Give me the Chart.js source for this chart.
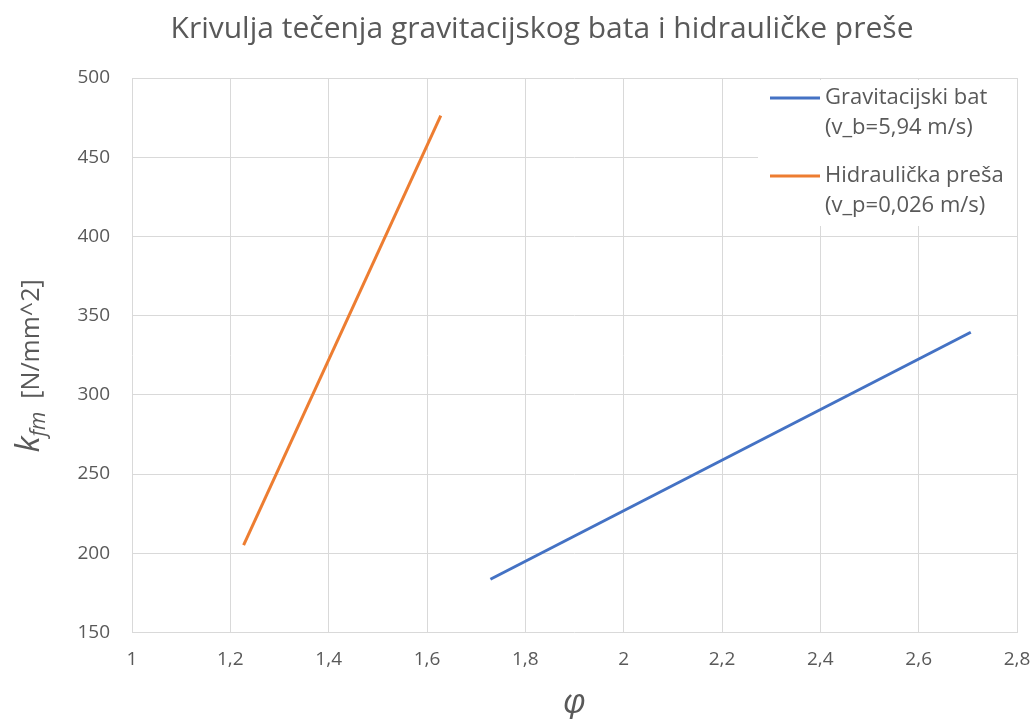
<!DOCTYPE html>
<html>
<head>
<meta charset="utf-8">
<script src="https://cdn.jsdelivr.net/npm/chart.js@4"></script>
<style>
  html, body { margin: 0; background: #fff; }
  #wrap { width: 1033px; height: 719px; }
</style>
</head>
<body>
<div id="wrap"><canvas id="chart"></canvas></div>
<script>
// phi values and k_fm readings for both machines
const gravPhi = [1.729, 2.706];
const gravKfm = [183.6, 339.5];
const presPhi = [1.227, 1.628];
const presKfm = [205.2, 476.3];

const seriesNames = [
  ['Gravitacijski bat', '(v_b=5,94 m/s)'],
  ['Hidraulička preša', '(v_p=0,026 m/s)'],
];
const titleText = 'Krivulja tečenja gravitacijskog bata i hidrauličke preše';

const FONT = '"Open Sans", "Noto Sans", sans-serif';
const GREY = '#595959';
const BLUE = '#4472C4';
const ORANGE = '#ED7D31';

const toComma = v => String(Math.round(v * 100) / 100).replace('.', ',');

// title, axis titles and legend
const decorations = {
  id: 'decorations',
  afterDraw(chart) {
    const ctx = chart.ctx;
    const area = chart.chartArea;
    ctx.save();
    ctx.fillStyle = GREY;

    // title
    ctx.font = '30px ' + FONT;
    ctx.textAlign = 'center';
    ctx.textBaseline = 'alphabetic';
    ctx.fillText(titleText, 542, 38);

    // x axis title
    ctx.font = 'italic 34px ' + FONT;
    ctx.fillText('φ', (area.left + area.right) / 2, 713);

    // y axis title: k_fm  [N/mm^2]
    const parts = [
      { t: 'k', f: 'italic 33px ' + FONT, dy: 0 },
      { t: 'fm', f: 'italic 21px ' + FONT, dy: 6 },
      { t: '  [N/mm^2]', f: '25px ' + FONT, dy: 0 },
    ];
    let total = 0;
    parts.forEach(p => { ctx.font = p.f; p.w = ctx.measureText(p.t).width; total += p.w; });
    ctx.translate(39, 366);
    ctx.rotate(-Math.PI / 2);
    ctx.textAlign = 'left';
    let x = -total / 2;
    parts.forEach(p => {
      ctx.font = p.f;
      ctx.fillText(p.t, x, p.dy);
      x += p.w;
    });
    ctx.restore();

    // legend box inside the plot
    ctx.save();
    ctx.fillStyle = '#fff';
    ctx.fillRect(758, 80, 259, 146);
    const rows = [
      { color: BLUE, y: 98, lines: seriesNames[0] },
      { color: ORANGE, y: 176, lines: seriesNames[1] },
    ];
    ctx.font = '22px ' + FONT;
    ctx.textAlign = 'left';
    ctx.textBaseline = 'middle';
    rows.forEach(r => {
      ctx.strokeStyle = r.color;
      ctx.lineWidth = 3;
      ctx.beginPath();
      ctx.moveTo(770, r.y);
      ctx.lineTo(820, r.y);
      ctx.stroke();
      ctx.fillStyle = GREY;
      ctx.fillText(r.lines[0], 825, r.y);
      ctx.fillText(r.lines[1], 825, r.y + 30);
    });
    ctx.restore();
  }
};

new Chart(document.getElementById('chart'), {
  type: 'scatter',
  data: {
    datasets: [
      {
        label: seriesNames[0].join(' '),
        data: gravPhi.map((x, i) => ({ x, y: gravKfm[i] })),
        showLine: true, borderColor: BLUE, borderWidth: 3, pointRadius: 0,
      },
      {
        label: seriesNames[1].join(' '),
        data: presPhi.map((x, i) => ({ x, y: presKfm[i] })),
        showLine: true, borderColor: ORANGE, borderWidth: 3, pointRadius: 0,
      },
    ]
  },
  options: {
    responsive: true,
    maintainAspectRatio: false,
    animation: false,
    layout: { padding: { top: 78, right: 16, left: 0, bottom: 0 } },
    plugins: { legend: { display: false }, title: { display: false }, tooltip: { enabled: false } },
    scales: {
      x: {
        type: 'linear', min: 1, max: 2.8,
        afterFit: s => { s.height = 86.5; s.paddingRight = 0; s.paddingLeft = 0; },
        grid: { color: '#d9d9d9', lineWidth: 1, drawTicks: false },
        border: { display: false },
        ticks: { stepSize: 0.2, padding: 16, color: GREY, font: { family: FONT, size: 19 }, callback: toComma },
      },
      y: {
        min: 150, max: 500,
        afterFit: s => { s.width = 132; },
        grid: { color: '#d9d9d9', lineWidth: 1, drawTicks: false },
        border: { display: false },
        ticks: { stepSize: 50, padding: 22, color: GREY, font: { family: FONT, size: 19 }, callback: toComma },
      }
    }
  },
  plugins: [decorations]
});
</script>
</body>
</html>
